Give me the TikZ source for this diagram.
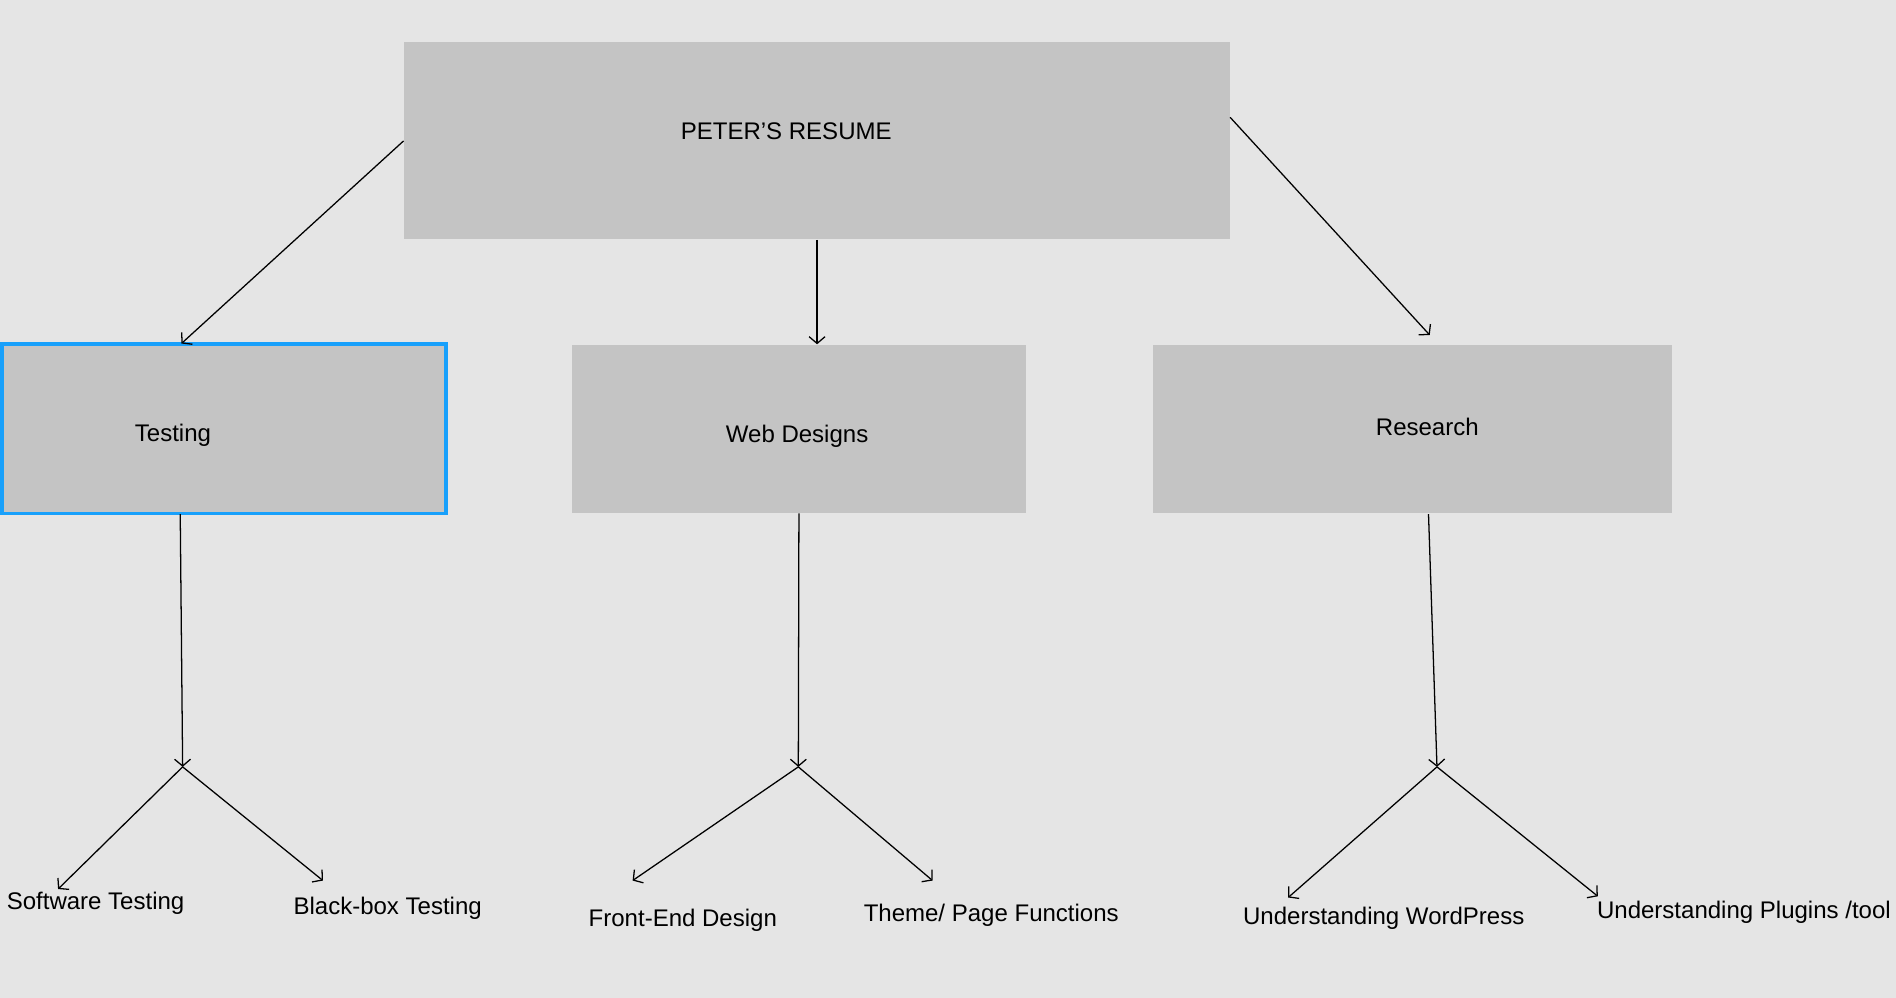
\documentclass[tikz,border=0pt]{standalone}
\usepackage{fontspec}
\setmainfont{Liberation Sans}
\usetikzlibrary{arrows.meta}
\definecolor{bggray}{HTML}{E5E5E5}
\definecolor{boxgray}{HTML}{C4C4C4}
\definecolor{selblue}{HTML}{18A0FB}
\begin{document}
\begin{tikzpicture}[box/.style={fill=boxgray,inner sep=0pt},
	txt/.style={anchor=base,inner sep=0pt,font=\fontsize{11.3}{13.5}\selectfont},
	arr/.style={-{Straight Barb[length=3.2pt,width=7.5pt]},line width=.6pt}]
	\fill[bggray] (0,0) rectangle (31.35,16.5);
	\useasboundingbox (0,0) rectangle (31.35,16.5);

	\node (resume) [box,minimum width=13.66cm,minimum height=3.26cm] at (13.51,14.17) {};
	\node (testing) [box,draw=selblue,line width=1.8pt,minimum width=7.34cm,minimum height=2.8cm] at (3.70,9.41) {};
	\node (web) [box,minimum width=7.5cm,minimum height=2.78cm] at (13.21,9.41) {};
	\node (research) [box,minimum width=8.58cm,minimum height=2.78cm] at (23.35,9.41) {};

	\node (resumetxt) [txt] at (13.0,14.2) {PETER’S RESUME};
	\node (testingtxt) [txt] at (2.86,9.2) {Testing};
	\node (webtxt) [txt] at (13.18,9.18) {Web Designs};
	\node (researchtxt) [txt] at (23.6,9.3) {Research};

	\node (soft) [txt] at (1.58,1.46) {Software Testing};
	\node (black) [txt] at (6.41,1.38) {Black-box Testing};
	\node (front) [txt] at (11.29,1.18) {Front-End Design};
	\node (theme) [txt] at (16.39,1.26) {Theme/ Page Functions};
	\node (wp) [txt] at (22.88,1.22) {Understanding WordPress};
	\node (plugins) [txt,anchor=base west] at (26.4,1.32) {Understanding Plugins /tool};

	\coordinate (r-east) at (20.34,14.56);
	\coordinate (t-in) at (3.0,10.82);
	\coordinate (r-in) at (23.64,10.96);
	\coordinate (t-out) at (2.98,8.0);
	\coordinate (r-out) at (23.62,8.0);
	\coordinate (j1) at (3.02,3.82);
	\coordinate (j2) at (13.2,3.82);
	\coordinate (j3) at (23.76,3.82);
	\coordinate (soft-in) at (0.96,1.8);
	\coordinate (black-in) at (5.34,1.94);
	\coordinate (front-in) at (10.46,1.94);
	\coordinate (theme-in) at (15.42,1.94);
	\coordinate (wp-in) at (21.3,1.66);
	\coordinate (plugins-in) at (26.42,1.68);

	\draw[arr] (resume.west) -- (t-in);
	\draw[arr] (resume.south) -- (resume.south |- web.north);
	\draw[arr] (r-east) -- (r-in);

	\draw[arr] (t-out) -- (j1);
	\draw[arr] (web.south) -- (j2);
	\draw[arr] (r-out) -- (j3);

	\draw[arr] (j1) -- (soft-in);
	\draw[arr] (j1) -- (black-in);
	\draw[arr] (j2) -- (front-in);
	\draw[arr] (j2) -- (theme-in);
	\draw[arr] (j3) -- (wp-in);
	\draw[arr] (j3) -- (plugins-in);
\end{tikzpicture}
\end{document}
